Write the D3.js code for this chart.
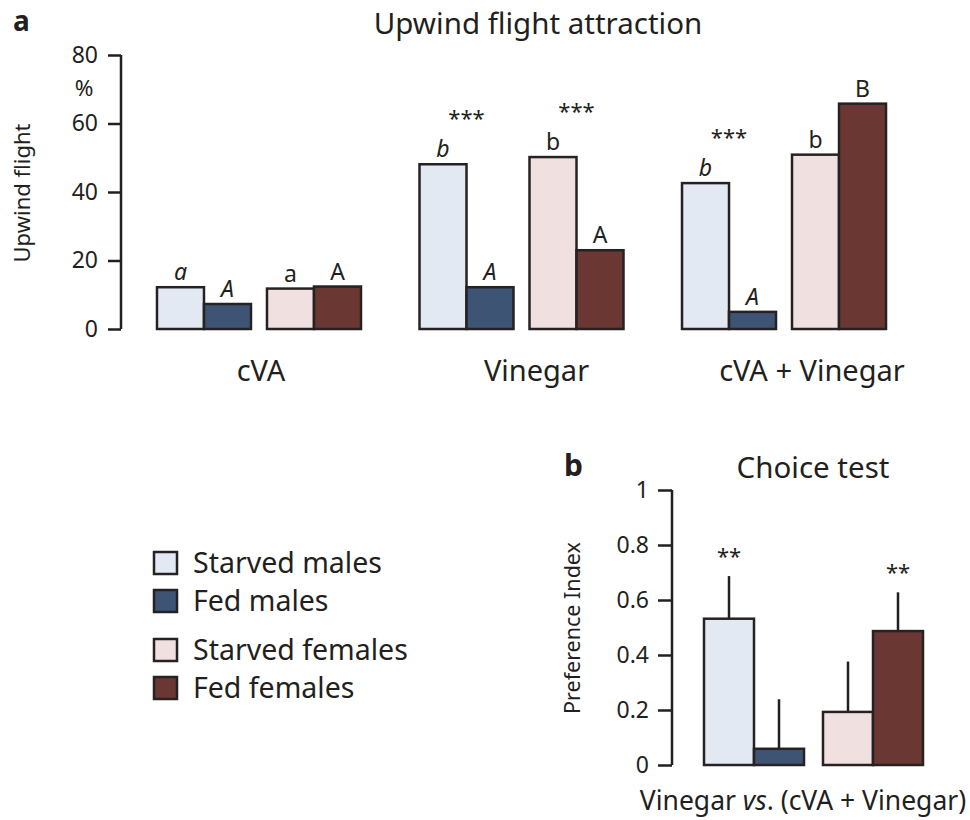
<!DOCTYPE html>
<html><head><meta charset="utf-8">
<script src="https://cdn.jsdelivr.net/npm/d3@7/dist/d3.min.js"></script>
<style>
body{margin:0;background:#fff;}
svg{display:block;}
text{font-family:"Noto Sans","Open Sans",sans-serif;fill:#231f20;}
</style></head><body>
<svg id="chart" width="970" height="820"></svg>
<script>
// ---- data ----
const series = ["Starved males","Fed males","Starved females","Fed females"];
const colors = ["#e2e9f3","#3e5474","#f0e1e0","#6a3733"];
const groupsA = ["cVA","Vinegar","cVA + Vinegar"];
const valuesA = [
  [12.2, 7.3, 11.8, 12.4],
  [48.1, 12.2, 50.2, 23.0],
  [42.6, 5.0, 50.9, 65.8]
];
const lettersA = [
  ["a","A","a","A"],
  ["b","A","b","A"],
  ["b","A","b","B"]
];
const italicA = [true,true,false,false];
const starsA = [["",""],["***","***"],["***",""]]; // [male pair, female pair]
const ticksA = [0,20,40,60,80];

const valuesB = [0.532, 0.059, 0.193, 0.487];
const errB = [0.155, 0.180, 0.183, 0.141];
const starsB = ["**","","","**"];
const ticksB = [0,0.2,0.4,0.6,0.8,1];

const svg = d3.select("#chart");
const ink = "#231f20";

// ---- panel a ----
const yA = d3.scaleLinear().domain([0,80]).range([329,55]);
const barW = 47, pairGap = 16;
const groupW = 4*barW + pairGap;
const xG = d3.scaleBand().domain(groupsA).range([157, 886]).paddingInner(0.223).paddingOuter(0);
const inner = d3.scaleOrdinal().domain(series).range([0, barW, 2*barW+pairGap, 3*barW+pairGap]);
const gx = g => xG(g) + (xG.bandwidth()-groupW)/2;
const xLab = d3.scalePoint().domain(groupsA).range([261, 812]);

svg.append("text").attr("x",13).attr("y",31).attr("font-size",28).attr("font-weight","bold").text("a");
svg.append("text").attr("x",538).attr("y",34).attr("text-anchor","middle").attr("font-size",29.5).text("Upwind flight attraction");

const axA = svg.append("g").attr("transform","translate(121,0)")
  .call(d3.axisLeft(yA).tickValues(ticksA).tickSize(13).tickPadding(10).tickFormat(d3.format("d")));
axA.select(".domain").attr("stroke",ink).attr("stroke-width",2.5).attr("d","M0,"+yA(80)+"V"+yA(0));
axA.selectAll(".tick line").attr("stroke",ink).attr("stroke-width",2.5);
axA.selectAll(".tick text").attr("font-size",23).attr("fill",ink).style("font-family",'"Noto Sans",sans-serif');
svg.append("text").attr("x",84).attr("y",96).attr("text-anchor","middle").attr("font-size",22.5).text("%");
svg.append("text").attr("transform","translate(30,193) rotate(-90)").attr("text-anchor","middle").attr("font-size",22).text("Upwind flight");

groupsA.forEach((g,gi)=>{
  const gg = svg.append("g");
  gg.selectAll("rect").data(valuesA[gi]).join("rect")
    .attr("x",(d,i)=>gx(g)+inner(series[i]))
    .attr("y",d=>yA(d))
    .attr("width",barW)
    .attr("height",d=>yA(0)-yA(d))
    .attr("fill",(d,i)=>colors[i])
    .attr("stroke","#262223").attr("stroke-width",2.5);
  gg.selectAll("text.let").data(valuesA[gi]).join("text").attr("class","let")
    .attr("x",(d,i)=>gx(g)+inner(series[i])+barW/2)
    .attr("y",d=>yA(d)-7)
    .attr("text-anchor","middle").attr("font-size",23)
    .attr("font-style",(d,i)=>italicA[i]?"italic":"normal")
    .text((d,i)=>lettersA[gi][i]);
  starsA[gi].forEach((s,p)=>{
    if(!s) return;
    const top = valuesA[gi][p*2];
    svg.append("text")
      .attr("x",gx(g)+inner(series[p*2])+barW)
      .attr("y",yA(top)-38)
      .attr("text-anchor","middle").attr("font-size",22).text(s);
  });
  svg.append("text").attr("x",xLab(g)).attr("y",381)
    .attr("text-anchor","middle").attr("font-size",29).text(g);
});

// ---- legend ----
const legY = d3.scaleOrdinal().domain(series).range([563,601,650,688]);
const leg = svg.append("g");
series.forEach((s,i)=>{
  leg.append("rect").attr("x",154).attr("y",legY(s)-11).attr("width",23).attr("height",22)
    .attr("fill",colors[i]).attr("stroke","#262223").attr("stroke-width",2.5);
  leg.append("text").attr("x",193).attr("y",legY(s)+10).attr("font-size",28.5).text(s);
});

// ---- panel b ----
const yB = d3.scaleLinear().domain([0,1]).range([765,490]);
const bW = 50, bGap = 19;
const xB = d3.scaleOrdinal().domain(series).range([704, 704+bW, 704+2*bW+bGap, 704+3*bW+bGap]);

svg.append("text").attr("x",564).attr("y",476).attr("font-size",30).attr("font-weight","bold").text("b");
svg.append("text").attr("x",813).attr("y",478).attr("text-anchor","middle").attr("font-size",29.5).text("Choice test");

const axB = svg.append("g").attr("transform","translate(672,0)")
  .call(d3.axisLeft(yB).tickValues(ticksB).tickSize(14).tickPadding(9).tickFormat(d=>d===0?"0":d===1?"1":d3.format(".1f")(d)));
axB.select(".domain").attr("stroke",ink).attr("stroke-width",2.5).attr("d","M0,"+yB(1)+"V"+yB(0));
axB.selectAll(".tick line").attr("stroke",ink).attr("stroke-width",2.5);
axB.selectAll(".tick text").attr("font-size",23).attr("fill",ink).style("font-family",'"Noto Sans",sans-serif');
svg.append("text").attr("transform","translate(580,628) rotate(-90)").attr("text-anchor","middle").attr("font-size",21.5).text("Preference Index");

const gb = svg.append("g");
gb.selectAll("line.err").data(valuesB).join("line").attr("class","err")
  .attr("x1",(d,i)=>xB(series[i])+bW/2).attr("x2",(d,i)=>xB(series[i])+bW/2)
  .attr("y1",d=>yB(d)).attr("y2",(d,i)=>yB(d+errB[i]))
  .attr("stroke",ink).attr("stroke-width",2.5);
gb.selectAll("rect").data(valuesB).join("rect")
  .attr("x",(d,i)=>xB(series[i])).attr("y",d=>yB(d))
  .attr("width",bW).attr("height",d=>yB(0)-yB(d))
  .attr("fill",(d,i)=>colors[i]).attr("stroke","#262223").attr("stroke-width",2.5);
gb.selectAll("text.st").data(valuesB).join("text").attr("class","st")
  .attr("x",(d,i)=>xB(series[i])+bW/2).attr("y",(d,i)=>yB(d+errB[i])-12)
  .attr("text-anchor","middle").attr("font-size",22).text((d,i)=>starsB[i]);

const xl = svg.append("text").attr("x",803).attr("y",810).attr("text-anchor","middle").attr("font-size",26.5);
xl.append("tspan").text("Vinegar ");
xl.append("tspan").attr("font-style","italic").text("vs");
xl.append("tspan").text(". (cVA + Vinegar)");
</script>
</body></html>
